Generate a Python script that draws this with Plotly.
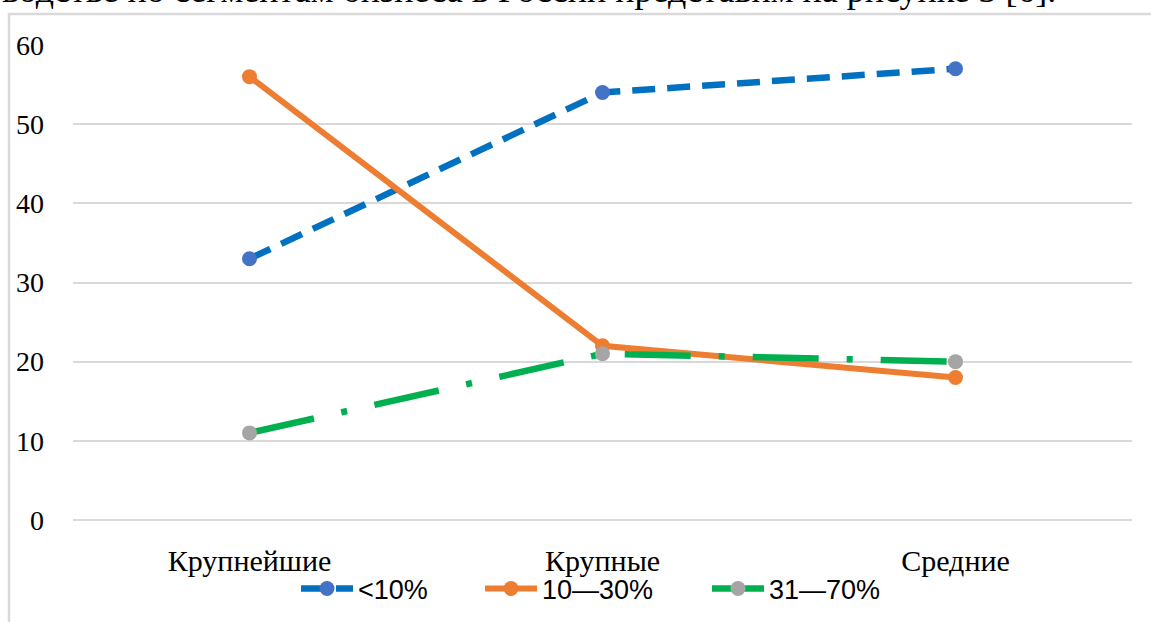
import plotly.graph_objects as go

categories = ["Крупнейшие", "Крупные", "Средние"]
series_names = ["<10%", "10—30%", "31—70%"]
vals_lt10 = [33, 54, 57]
vals_10_30 = [56, 22, 18]
vals_31_70 = [11, 21, 20]
y_ticks = [0, 10, 20, 30, 40, 50, 60]
caption = "водстве по сегментам бизнеса в России представим на рисунке 3 [6]."

W, H = 1151, 622
L, R, T, B = 73, 19, 45, 102
pw, ph = W - L - R, H - T - B


def px_to_paper_x(px):
    return (px - L) / pw


def px_to_paper_y(py):
    return (H - B - py) / ph


line_styles = [
    dict(color="#0070C0", width=6.5, dash="23px,12px"),
    dict(color="#ED7D31", width=6),
    dict(color="#00B050", width=6.5, dash="66px,28px,6px,28px"),
]
marker_colors = ["#4472C4", "#ED7D31", "#A5A5A5"]
series_values = [vals_lt10, vals_10_30, vals_31_70]
legend_ids = ["legend", "legend2", "legend3"]
legend_left_px = [296, 480, 707]

fig = go.Figure()
for name, vals, ls, mc, lid in zip(series_names, series_values, line_styles, marker_colors, legend_ids):
    fig.add_trace(go.Scatter(
        x=categories, y=vals, name=name, mode="lines+markers",
        line=ls, marker=dict(color=mc, size=15, line=dict(width=0)),
        legend=lid,
    ))

legend_common = dict(
    orientation="h", yanchor="middle", xanchor="left",
    y=px_to_paper_y(589),
    font=dict(family="Liberation Sans", size=27, color="#000000"),
    bgcolor="rgba(0,0,0,0)", itemwidth=52,
)
legend_layouts = {lid: dict(legend_common, x=px_to_paper_x(lx)) for lid, lx in zip(legend_ids, legend_left_px)}

fig.update_layout(
    width=W, height=H,
    margin=dict(l=L, r=R, t=T, b=B, pad=0, autoexpand=False),
    paper_bgcolor="white", plot_bgcolor="white",
    font=dict(family="Liberation Serif", color="#000000"),
    showlegend=True,
    xaxis=dict(
        type="category", range=[-0.5, 2.5], showgrid=False, showline=False,
        zeroline=False, ticks="", ticklabelstandoff=20, automargin=False,
        tickfont=dict(family="Liberation Serif", size=30, color="#000000"),
    ),
    yaxis=dict(
        range=[0, 60], tickvals=y_ticks, showgrid=True, gridcolor="#D9D9D9",
        gridwidth=1.5, zeroline=True, zerolinecolor="#D9D9D9", zerolinewidth=1.5,
        showline=False, ticks="", ticklabelstandoff=28, automargin=False,
        tickfont=dict(family="Liberation Serif", size=28, color="#000000"),
    ),
    shapes=[dict(
        type="rect", xref="paper", yref="paper",
        x0=px_to_paper_x(9), x1=px_to_paper_x(W + 20),
        y0=px_to_paper_y(H + 20), y1=px_to_paper_y(14),
        line=dict(color="#D9D9D9", width=2.5), fillcolor="rgba(0,0,0,0)", layer="below",
    )],
    annotations=[dict(
        text=caption, xref="paper", yref="paper",
        x=px_to_paper_x(0), xanchor="left",
        y=px_to_paper_y(9), yanchor="bottom",
        showarrow=False, font=dict(family="Liberation Serif", size=36, color="#000000"),
        yshift=-3,
    )],
    **legend_layouts,
)

fig.write_html(
    "out.html",
    config={"displayModeBar": False},
    post_script="document.body.style.margin='0';document.body.style.overflow='hidden';",
)
